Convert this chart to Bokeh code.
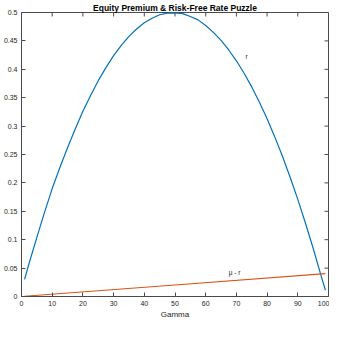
import math
from bokeh.plotting import figure
from bokeh.models import Range1d, FixedTicker
from bokeh.core.properties import value
from bokeh.embed import file_html
from bokeh.resources import INLINE

# ---- data ----
gamma = [1, 2.5, 5, 7.5, 10, 12.5, 15, 17.5, 20, 22.5, 25, 27.5, 30, 32.5, 35, 37.5, 40,
         42.5, 45, 47.5, 50, 52.5, 55, 57.5, 60, 62.5, 65, 67.5, 70, 72.5, 75, 77.5, 80,
         82.5, 85, 87.5, 90, 92.5, 95, 97.5, 99]
r_vals = [0.030, 0.059, 0.104, 0.148, 0.190, 0.227, 0.262, 0.295, 0.326, 0.354, 0.380,
          0.403, 0.424, 0.442, 0.458, 0.471, 0.482, 0.490, 0.496, 0.499, 0.4995, 0.498,
          0.493, 0.487, 0.477, 0.465, 0.451, 0.434, 0.415, 0.393, 0.369, 0.342, 0.313,
          0.281, 0.247, 0.210, 0.171, 0.129, 0.085, 0.038, 0.011]
prem_gamma = [1, 50, 99]
prem_vals = [0.0004, 0.0202, 0.0404]

x_ticks = [0, 10, 20, 30, 40, 50, 60, 70, 80, 90, 100]
x_tick_labels = ["0", "10", "20", "30", "40", "50", "60", "70", "80", "90", "100"]
y_ticks = [0, 0.05, 0.1, 0.15, 0.2, 0.25, 0.3, 0.35, 0.4, 0.45, 0.5]
y_tick_labels = ["0", "0.05", "0.1", "0.15", "0.2", "0.25", "0.3", "0.35", "0.4", "0.45", "0.5"]

label_x = [73.0, 67.5]
label_y = [0.422, 0.042]
label_txt = ["r", "\u03bc - r"]

title_text = "Equity Premium & Risk-Free Rate Puzzle"
xlabel = "Gamma"

FONT = "Liberation Sans"
AX = "#4a4a4a"
TXT = "#262626"

p = figure(width=329, height=321, output_backend="svg", toolbar_location=None,
           x_range=Range1d(0, 100), y_range=Range1d(0, 0.5),
           min_border_left=18, min_border_right=1, min_border_top=9, min_border_bottom=22)

p.title.text = title_text
p.title.align = "center"
p.title.text_font = FONT
p.title.text_font_size = "8.5px"
p.title.text_font_style = "bold"
p.title.text_color = "#000000"
p.title.standoff = 0
p.title.offset = 0

p.grid.visible = False
p.outline_line_color = AX
p.outline_line_width = 1
p.background_fill_color = "white"
p.border_fill_color = "white"

def style_axis(ax):
    ax.axis_line_color = AX
    ax.axis_line_width = 1
    ax.major_tick_line_color = AX
    ax.major_tick_in = 4
    ax.major_tick_out = 0
    ax.minor_tick_line_color = None
    ax.major_label_text_font = FONT
    ax.major_label_text_font_size = "7px"
    ax.major_label_text_color = TXT
    ax.major_label_standoff = 4

xa = p.xaxis[0]
xa.ticker = FixedTicker(ticks=x_ticks)
xa.major_label_overrides = {t: l for t, l in zip(x_ticks, x_tick_labels)}
style_axis(xa)
xa.axis_label = xlabel
xa.axis_label_text_font = FONT
xa.axis_label_text_font_size = "8px"
xa.axis_label_text_font_style = "normal"
xa.axis_label_text_color = TXT
xa.axis_label_standoff = 1

ya = p.yaxis[0]
ya.ticker = FixedTicker(ticks=y_ticks)
ya.major_label_overrides = {t: l for t, l in zip(y_ticks, y_tick_labels)}
style_axis(ya)

# box ticks on top and right edges (MATLAB "box on" style)
p.ray(x=x_ticks, y=[y_ticks[-1]] * len(x_ticks), length=4, length_units="screen",
      angle=-math.pi / 2, line_color=AX, line_width=1)
p.ray(x=[x_ticks[-1]] * len(y_ticks), y=y_ticks, length=4, length_units="screen",
      angle=math.pi, line_color=AX, line_width=1)

p.line(gamma, r_vals, line_color="#0072BD", line_width=1.2)
p.line(prem_gamma, prem_vals, line_color="#D95319", line_width=1.2)

p.text(x=label_x, y=label_y, text=label_txt, text_font=value(FONT),
       text_font_size="6.5px", text_color=TXT, text_align="left", text_baseline="middle")

open("out.html", "w").write(file_html(p, INLINE))
